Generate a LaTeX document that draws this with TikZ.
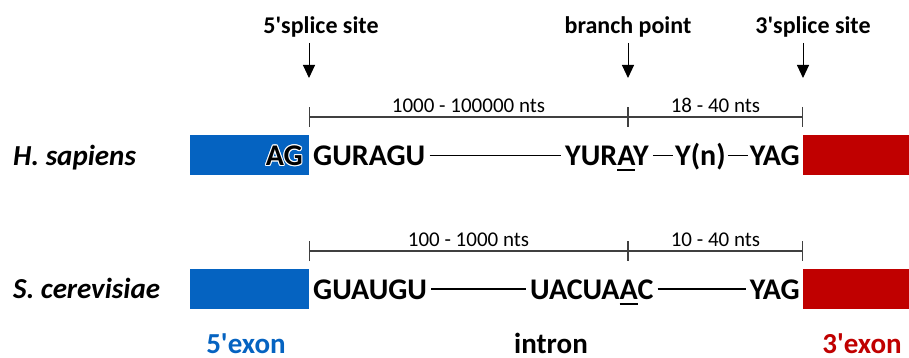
\documentclass[tikz,border=0pt]{standalone}
\usepackage{fontspec}
\setmainfont{Carlito}
\usetikzlibrary{arrows.meta}
\definecolor{exblue}{RGB}{5,99,193}
\definecolor{exred}{RGB}{192,0,0}
\definecolor{dimgray}{RGB}{64,64,64}
% underlined branch-point A
\newcommand{\brpt}[1]{\setbox0\hbox{#1}\rlap{\vrule height -3.5pt depth 5.5pt width \wd0}#1}
\newcommand{\pr}{\textquotesingle}
\tikzset{
  seq/.style={font=\bfseries\fontsize{30}{32}\selectfont, inner xsep=4pt, inner ysep=2pt,
    text height=20pt, text depth=0pt},
  site/.style={font=\bfseries\fontsize{24}{27}\selectfont, anchor=base, inner sep=0pt},
  dimlabel/.style={font=\fontsize{21}{23}\selectfont, text=black},
  dimline/.style={draw=dimgray, line width=1.3pt, {Bar[width=20pt]}-{Bar[width=20pt]}},
  sitearrow/.style={line width=1pt, -{Triangle[width=12pt,length=13pt]}},
  species/.style={font=\bfseries\itshape\fontsize{29}{31}\selectfont, anchor=base west, inner sep=0pt},
  partlabel/.style={font=\bfseries\fontsize{29}{31}\selectfont, anchor=base, inner sep=0pt},
  link/.style={line width=1.8pt}
}

\begin{document}
\begin{tikzpicture}[x=1pt, y=-1pt]
  \useasboundingbox (0,0) rectangle (909,358);

  % splice sites and branch point
  \node[site] (s5lab) at (321,34) {5\pr splice site};
  \node[site] (bplab) at (628,34) {branch point};
  \node[site] (s3lab) at (813,34) {3\pr splice site};
  \foreach \x/\n in {309/s5, 628/bp, 803/s3} {
    \coordinate (\n top) at (\x,43);
    \coordinate (\n tip) at (\x,78);
    \draw[sitearrow] (\n top) -- (\n tip);
  }

  % H. sapiens
  \node[species] (hs) at (13,165) {H. sapiens};
  \coordinate (dh1) at (309,117);
  \coordinate (dh2) at (628,117);
  \coordinate (dh3) at (803,117);
  \draw[dimline] (dh1) -- (dh2) node[midway, above, dimlabel] {1000 - 100000 nts};
  \draw[dimline] (dh2) -- (dh3) node[midway, above, dimlabel] {18 - 40 nts};
  \fill[exblue] (190,135) rectangle (309,175);
  \fill[exred] (803,135) rectangle (909,175);
  \foreach \dx/\dy in {-1/0, 1/0, 0/-1, 0/1, -.7/-.7, .7/-.7, -.7/.7, .7/.7}
    \node[seq, white, anchor=east] at (307+\dx,155.5+\dy) {AG};
  \node[seq, anchor=east] (hag) at (307,155.5) {AG};
  \node[seq, anchor=west] (hgu) at (309,155.5) {GURAGU};
  \node[seq, anchor=west] (hbp) at (561,155.5) {YUR\brpt{A}Y};
  \node[seq, anchor=west, inner xsep=2pt] (hyn) at (673,155.5) {Y(n)};
  \node[seq, anchor=east, inner xsep=2pt] (hyag) at (802,155.5) {YAG};
  \draw[link] (hgu) -- (hbp);
  \draw[link] (hbp) -- (hyn);
  \draw[link] (hyn) -- (hyag);

  % S. cerevisiae
  \node[species] (sc) at (13,298) {S. cerevisiae};
  \coordinate (ds1) at (309,251);
  \coordinate (ds2) at (628,251);
  \coordinate (ds3) at (803,251);
  \draw[dimline] (ds1) -- (ds2) node[midway, above, dimlabel] {100 - 1000 nts};
  \draw[dimline] (ds2) -- (ds3) node[midway, above, dimlabel] {10 - 40 nts};
  \fill[exblue] (190,269) rectangle (309,309);
  \fill[exred] (803,269) rectangle (909,309);
  \node[seq, anchor=west] (sgu) at (309,289) {GUAUGU};
  \node[seq, anchor=west] (sbp) at (526,289) {UACUA\brpt{A}C};
  \node[seq, anchor=east] (syag) at (804,289) {YAG};
  \draw[link] (sgu) -- (sbp);
  \draw[link] (sbp) -- (syag);

  % parts
  \node[partlabel, text=exblue] (ex5) at (246,353) {5\pr exon};
  \node[partlabel] (intr) at (551,353) {intron};
  \node[partlabel, text=exred] (ex3) at (862,353) {3\pr exon};
\end{tikzpicture}
\end{document}
